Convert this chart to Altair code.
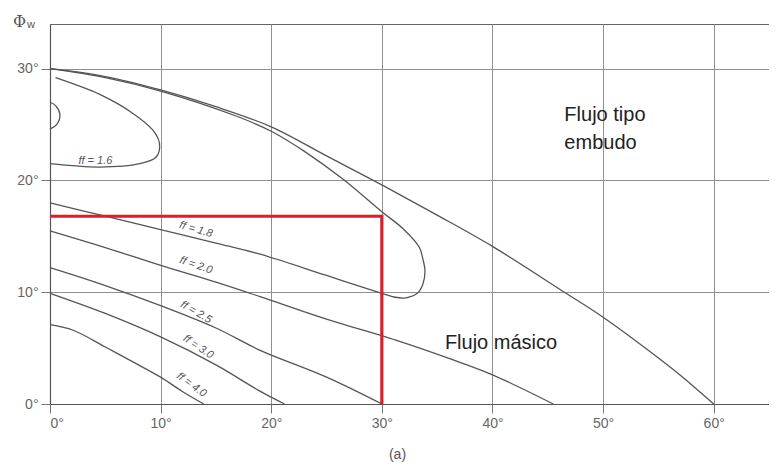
import altair as alt
import pandas as pd

ff40_x = [0, 2.1, 5, 8, 10, 12, 13.9]
ff40_y = [7.1, 6.6, 5.1, 3.5, 2.4, 1.1, 0]
ff30_x = [0, 5, 10, 15, 18.9, 21.2]
ff30_y = [9.9, 8.1, 6.0, 3.5, 1.2, 0]
ff25_x = [0, 5, 10, 15, 19, 25, 30]
ff25_y = [12.2, 10.6, 8.8, 6.8, 4.8, 2.4, 0]
ff20_x = [0, 5, 10, 15, 19, 25, 31.6, 36, 39.9, 45.5]
ff20_y = [15.5, 14.0, 12.4, 10.9, 9.6, 7.6, 5.6, 4.1, 2.65, 0]
ff18_x = [0, 5, 10, 15, 19, 25, 30, 31.2, 32.2, 33.2, 33.7, 33.9, 33.7, 33.4,
          31.9, 30, 26.5, 23, 20, 17, 10, 5, 0]
ff18_y = [18.0, 16.8, 15.6, 14.4, 13.4, 11.5, 9.9, 9.55, 9.5, 9.9, 10.7, 11.9, 13.0, 14.0,
          15.7, 17.2, 20.1, 22.6, 24.4, 25.7, 28.0, 29.2, 30.0]
ff16_x = [0.5, 4.5, 7.5, 9.3, 9.9, 9.6, 8.1, 4.5, 0]
ff16_y = [29.2, 27.7, 26.0, 24.5, 23.3, 22.1, 21.5, 21.2, 21.5]
ff15_x = [0, 0.5, 0.9, 0.6, 0]
ff15_y = [27.0, 26.7, 25.9, 25.0, 24.6]
limit_x = [0, 5, 10, 15, 20, 25, 30, 35, 40, 46.5, 49.8, 53.3, 56.9, 60]
limit_y = [30, 29.3, 28.1, 26.6, 24.8, 22.2, 19.6, 16.9, 14.1, 10.0, 7.9, 5.4, 2.65, 0]

red_x = [0, 30, 30]
red_y = [16.8, 16.8, 0]

lab_text = ["ff = 1.6", "ff = 1.8", "ff = 2.0", "ff = 2.5", "ff = 3.0", "ff = 4.0"]
lab_x = [4.1, 13.2, 13.2, 13.2, 13.4, 12.8]
lab_y = [21.7, 15.6, 12.4, 8.2, 5.1, 1.7]
lab_angle = [0, 16, 19, 30, 34, 36]

region_text = ["Flujo tipo", "embudo", "Flujo másico"]
region_x = [46.5, 46.5, 35.7]
region_y = [25.3, 22.8, 4.9]

x_ticks = [0, 10, 20, 30, 40, 50, 60]
y_ticks = [0, 10, 20, 30]

# ---- build tables ----
curves = {
    "ff40": (ff40_x, ff40_y), "ff30": (ff30_x, ff30_y), "ff25": (ff25_x, ff25_y),
    "ff20": (ff20_x, ff20_y), "ff18": (ff18_x, ff18_y), "ff16": (ff16_x, ff16_y),
    "ff15": (ff15_x, ff15_y), "limit": (limit_x, limit_y),
}
rows = []
for name, (xs, ys) in curves.items():
    for i, (a, b) in enumerate(zip(xs, ys)):
        rows.append({"curve": name, "i": i, "x": a, "y": b})
curve_df = pd.DataFrame(rows)
red_df = pd.DataFrame({"x": red_x, "y": red_y, "i": range(len(red_x))})
lab_df = pd.DataFrame({"x": lab_x, "y": lab_y, "t": lab_text, "a": lab_angle})
reg_df = pd.DataFrame({"x": region_x, "y": region_y, "t": region_text})
phi_df = pd.DataFrame({"x": [-2.76], "y": [33.7], "t": ["Φ"]})
w_df = pd.DataFrame({"x": [-1.72], "y": [33.62], "t": ["w"]})

LAB_FONT = "Liberation Sans Narrow, Liberation Sans, Arial, sans-serif"

X = alt.X("x:Q", scale=alt.Scale(domain=[0, 65], nice=False, zero=False),
          axis=alt.Axis(values=x_ticks, labelExpr="datum.value + '°'", title="(a)",
                        titleX=347, titlePadding=17))
Y = alt.Y("y:Q", scale=alt.Scale(domain=[0, 34], nice=False, zero=False),
          axis=alt.Axis(values=y_ticks, labelExpr="datum.value + '°'", title=""))

lines = alt.Chart(curve_df).mark_line(
    color="#555555", strokeWidth=1.3, interpolate="catmull-rom"
).encode(x=X, y=Y, detail="curve:N", order="i:Q")

red = alt.Chart(red_df).mark_line(color="#d9202a", strokeWidth=3.2).encode(
    x=X, y=Y, order="i:Q")

labels = alt.Chart(lab_df).mark_text(
    font="Liberation Sans, Arial, sans-serif", fontSize=11, fontStyle="italic",
    color="#555555", align="center", baseline="middle"
).encode(x=X, y=Y, text="t:N", angle=alt.Angle("a:Q", scale=None))

regions = alt.Chart(reg_df).mark_text(
    font="Liberation Sans, Arial, sans-serif", fontSize=20, color="#222222",
    align="left", baseline="alphabetic"
).encode(x=X, y=Y, text="t:N")

phi = alt.Chart(phi_df).mark_text(
    font="DejaVu Serif, serif", fontSize=16, color="#555555",
    align="center", baseline="alphabetic", clip=False
).encode(x=X, y=Y, text="t:N")

wsub = alt.Chart(w_df).mark_text(
    font=LAB_FONT, fontSize=11, color="#555555",
    align="center", baseline="alphabetic", clip=False
).encode(x=X, y=Y, text="t:N")

chart = alt.layer(lines, red, labels, regions, phi, wsub).properties(
    width=719, height=380,
    autosize=alt.AutoSizeParams(type="none"),
    padding={"left": 42, "top": 16, "right": 0, "bottom": 63},
).configure_view(stroke="#666666", strokeWidth=1).configure_axis(
    grid=True, gridColor="#909090", gridWidth=1,
    tickColor="#777777", tickSize=9, tickWidth=1,
    domainColor="#555555", domainWidth=1.2,
    labelFont=LAB_FONT, labelFontSize=14, labelColor="#666666", labelPadding=3,
    titleFont=LAB_FONT, titleFontSize=14, titleFontWeight="normal", titleColor="#555555",
)

chart.save("out.html", embed_options={"renderer": "svg", "actions": False})
